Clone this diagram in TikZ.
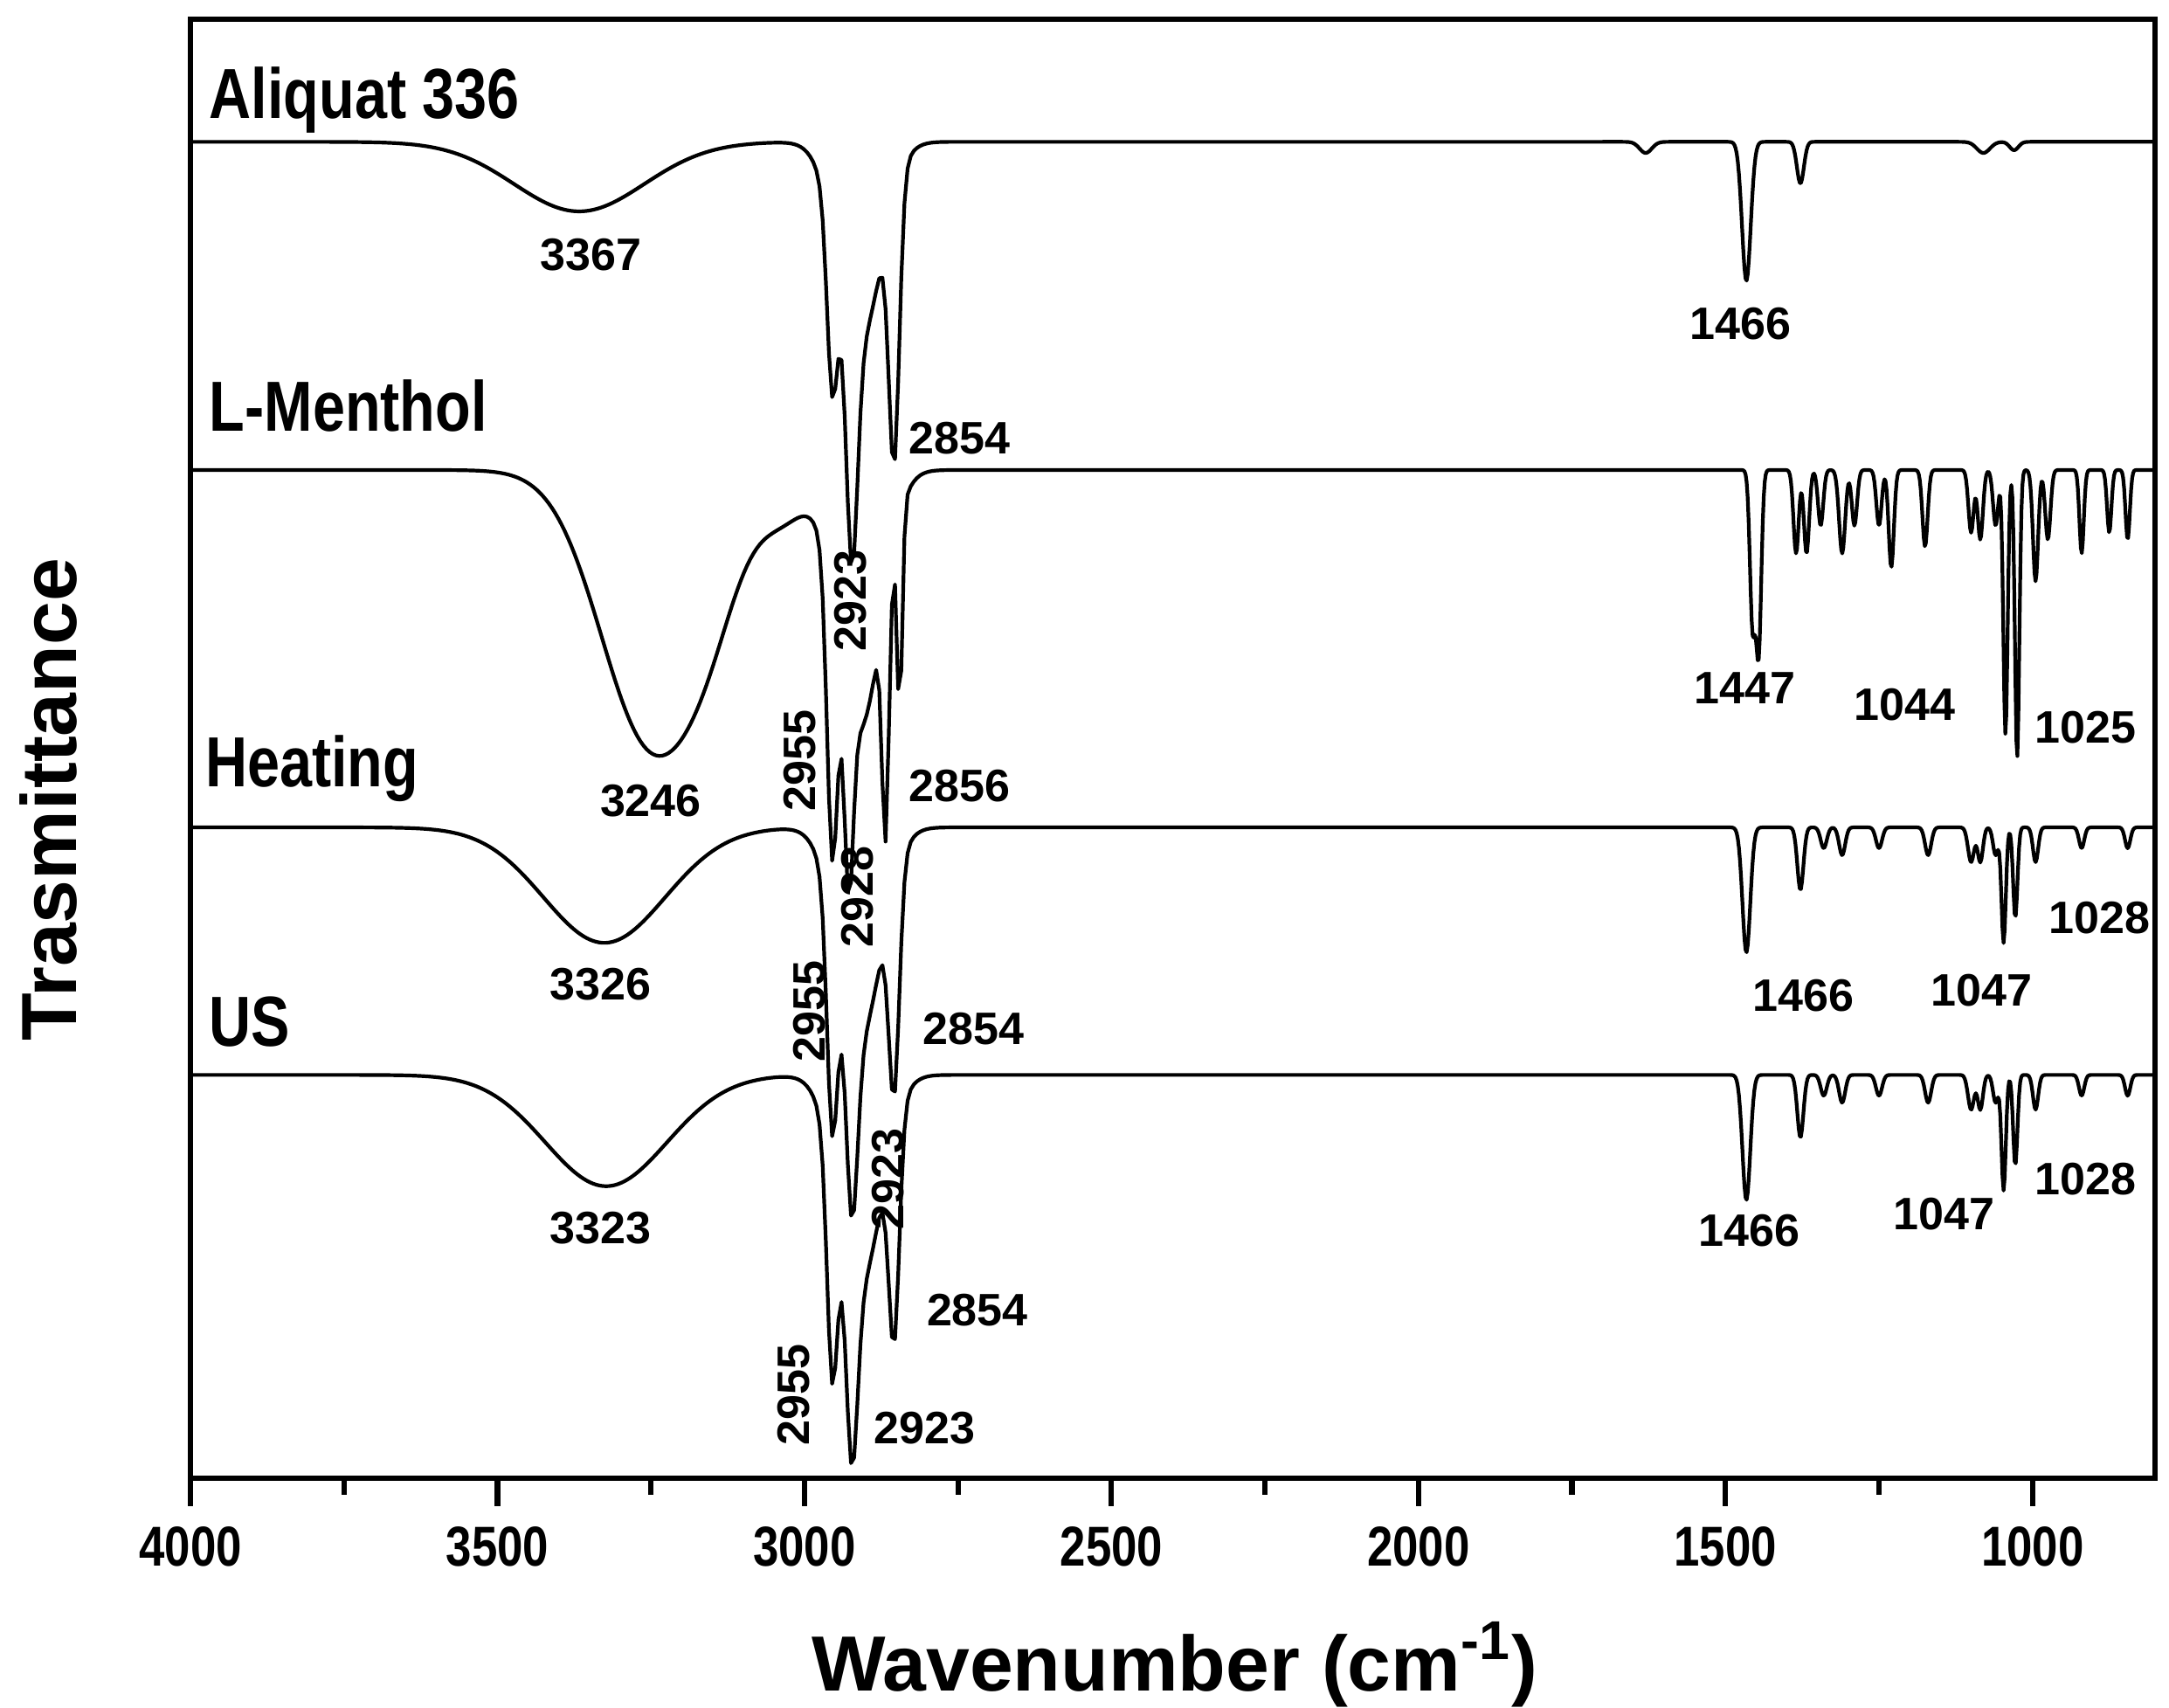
\documentclass[tikz,border=0pt]{standalone}
\usepackage{fontspec}
\setmainfont{Liberation Sans}
\newfontfamily\cond[FakeStretch=0.82]{Liberation Sans}
\begin{document}
\begin{tikzpicture}[x=0.01cm,y=-0.01cm,
  declare function={
   g(\x,\c,\w)=exp(-((min(abs(\x-\c)/\w,4))^2));
   X(\x)=137+(4000-\x)*0.4416;
   Ahi(\x)=50*g(\x,3367,150)+120*g(\x,2955,12)+173*g(\x,2923,13)+193*g(\x,2854,12)+142*g(\x,2910,50);
   Alo(\x)=8*g(\x,1630,14)+100*g(\x,1466,10)+30*g(\x,1378,8)+8*g(\x,1080,15)+6*g(\x,1030,10);
   Mhi(\x)=195*g(\x,3250,115)+50*g(\x,3150,75)+30*g(\x,3030,60)+192*g(\x,2955,12)+143*g(\x,2928,10)+176*g(\x,2868,8)+140*g(\x,2845,6)+185*g(\x,2910,50);
   Mlo(\x)=110*g(\x,1456,6)+130*g(\x,1446,6)+60*g(\x,1385,6)+60*g(\x,1368,6)+40*g(\x,1345,6)+60*g(\x,1310,7)+40*g(\x,1290,6)+40*g(\x,1250,6)+70*g(\x,1230,6)+55*g(\x,1175,6)+45*g(\x,1100,6)+50*g(\x,1085,6)+40*g(\x,1060,6)+190*g(\x,1044,5)+207*g(\x,1025,5)+80*g(\x,995,6)+50*g(\x,975,6)+60*g(\x,920,5)+45*g(\x,875,5)+50*g(\x,845,5);
   Hhi(\x)=83*g(\x,3326,140)+155*g(\x,2955,12)+142*g(\x,2923,13)+152*g(\x,2854,12)+150*g(\x,2910,50);
   Uhi(\x)=80*g(\x,3323,140)+155*g(\x,2955,12)+142*g(\x,2923,13)+152*g(\x,2854,12)+150*g(\x,2910,50);
   Hlo(\x)=90*g(\x,1466,9)+45*g(\x,1378,7)+15*g(\x,1340,7)+20*g(\x,1310,7)+15*g(\x,1250,7)+20*g(\x,1170,7)+25*g(\x,1100,7)+25*g(\x,1085,6)+20*g(\x,1060,6)+83*g(\x,1047,5)+65*g(\x,1028,5)+25*g(\x,995,6)+15*g(\x,920,6)+15*g(\x,845,6);
  },
  spec/.style={line width=0.75pt,line join=round},
  ax/.style={line width=1.1pt},
  big/.style={font=\cond\bfseries\fontsize{14.5}{16}\selectfont,anchor=west,inner sep=0},
  pk/.style={font=\bfseries\fontsize{9.3}{10}\selectfont,inner sep=0},
  pkr/.style={pk,rotate=90},
  tl/.style={font=\cond\bfseries\fontsize{11.5}{12}\selectfont,inner sep=0}]
\useasboundingbox (0,0) rectangle (1560,1228);
% spectra
\draw[spec] plot[domain=4000:1700,samples=450] ({X(\x)},{102+Ahi(\x)}) -- plot[domain=1700:800,samples=500] ({X(\x)},{102+Alo(\x)});
\draw[spec] plot[domain=4000:1700,samples=450] ({X(\x)},{338+Mhi(\x)}) -- plot[domain=1700:800,samples=550] ({X(\x)},{338+Mlo(\x)});
\draw[spec] plot[domain=4000:1700,samples=450] ({X(\x)},{595+Hhi(\x)}) -- plot[domain=1700:800,samples=500] ({X(\x)},{595+Hlo(\x)});
\draw[spec] plot[domain=4000:1700,samples=450] ({X(\x)},{773+Uhi(\x)}) -- plot[domain=1700:800,samples=500] ({X(\x)},{773+Hlo(\x)});
% frame
\draw[ax] (137,14) rectangle (1550,1063);
\foreach \w in {4000,3500,...,1000}{
  \draw[ax] ({X(\w)},1063) -- ++(0,20);
  \node[tl] at ({X(\w)},1112) {\w};}
\foreach \w in {3750,3250,...,1250}{
  \draw[ax] ({X(\w)},1063) -- ++(0,12);}
\node[font=\bfseries\fontsize{16}{18}\selectfont] (xt) at (845,1197) {Wavenumber (cm\textsuperscript{-1})};
\node[font=\bfseries\fontsize{16}{18}\selectfont,rotate=90] (yt) at (35,575) {Trasmittance};
% names
\node[big] (n1) at (150,72) {Aliquat 336};
\node[big] (n2) at (150,292) {L-Menthol};
\node[big] (n3) at (147,553) {Heating};
\node[big] (n4) at (150,735) {US};
% peak labels
\node[pk] at (425,183) {3367};
\node[pk] at (1252,233) {1466};
\node[pk] at (690,315) {2854};
\node[pkr] at (612,432) {2923};
\node[pk] at (468,576) {3246};
\node[pkr] at (575,547) {2955};
\node[pkr] at (617,645) {2928};
\node[pk] at (690,565) {2856};
\node[pk] at (1255,495) {1447};
\node[pk] at (1370,507) {1044};
\node[pk] at (1500,523) {1025};
\node[pk] at (432,708) {3326};
\node[pkr] at (582,727) {2955};
\node[pk] at (700,740) {2854};
\node[pkr] at (639,848) {2923};
\node[pk] at (1297,716) {1466};
\node[pk] at (1425,712) {1047};
\node[pk] at (1510,660) {1028};
\node[pk] at (432,883) {3323};
\node[pk] at (703,942) {2854};
\node[pkr] at (571,1003) {2955};
\node[pk] at (665,1027) {2923};
\node[pk] at (1258,885) {1466};
\node[pk] at (1398,873) {1047};
\node[pk] at (1500,848) {1028};
\end{tikzpicture}
\end{document}
